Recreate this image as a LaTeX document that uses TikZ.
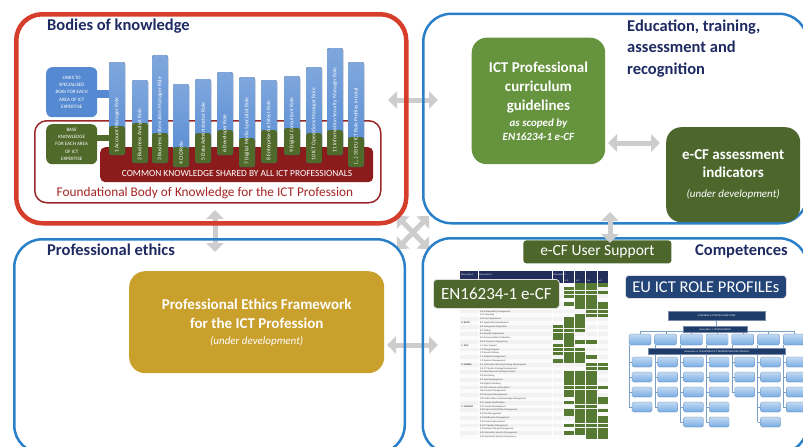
\documentclass[tikz,border=0pt]{standalone}
\usepackage{fontspec}
\setmainfont{Carlito}
\usetikzlibrary{arrows.meta,positioning}

\definecolor{titlenavy}{RGB}{30,42,98}
\definecolor{bokred}{RGB}{214,62,44}
\definecolor{panelblue}{RGB}{42,128,200}
\definecolor{leafgreen}{RGB}{102,148,62}
\definecolor{darkgreen}{RGB}{76,102,44}
\definecolor{ochre}{RGB}{201,160,44}
\definecolor{maroon}{RGB}{140,28,28}
\definecolor{rimred}{RGB}{155,40,40}
\definecolor{barblue}{RGB}{85,138,210}
\definecolor{bargreen}{RGB}{80,106,44}
\definecolor{arrowgray}{RGB}{205,205,205}
\definecolor{profnavy}{RGB}{35,68,118}
\definecolor{cellgreen}{RGB}{86,122,52}
\definecolor{chartblue}{RGB}{120,172,228}
\definecolor{chartnavy}{RGB}{30,60,105}
\definecolor{tablenavy}{RGB}{36,46,92}

\tikzset{
  panel/.style={draw, line width=2.5pt, rounded corners=28pt, anchor=north west, inner sep=0pt},
  title/.style={text=titlenavy, font=\fontsize{16.5}{21.7}\selectfont\bfseries, align=left, inner sep=0pt},
  card/.style={rounded corners=15pt, anchor=north west, inner sep=0pt, text=white, align=center},
  tag/.style={rounded corners=3.5pt, anchor=north west, inner sep=0pt, text=white,
    draw=white!75!gray, line width=0.8pt},
  side/.style={rounded corners=6pt, anchor=north west, inner sep=0pt, text=white, align=center,
    font=\fontsize{5}{7.3}\selectfont},
  barlabel/.style={rotate=90, anchor=west, inner sep=0pt, text=white, font=\fontsize{5.5}{6}\selectfont},
  garrow/.style={draw=arrowgray, line width=5pt, >={Triangle[width=17pt,length=9pt]}, <->},
  cflabel/.style={anchor=west, inner sep=0pt, text=gray!55!black, font=\fontsize{2.4}{2.6}\selectfont},
  hdrlabel/.style={anchor=west, inner sep=0pt, text=white, font=\fontsize{2.4}{2.6}\selectfont},
  orgbox/.style={top color=chartblue!45!white, bottom color=chartblue, draw=chartblue!75!black,
    line width=0.2pt, rounded corners=1.5pt},
  orgline/.style={draw=chartblue!70!gray, line width=0.4pt},
  orghead/.style={fill=chartnavy, draw=chartnavy!60!white, line width=0.3pt, anchor=north west,
    inner sep=0pt, text=white, font=\fontsize{2.5}{3}\selectfont},
}

\begin{document}
\begin{tikzpicture}[x=1pt,y=-1pt]
\useasboundingbox (0,0) rectangle (803,447);
\clip (0,0) rectangle (803,447);

% grey links between the four areas, under the frames
\coordinate (bokE) at (388,100);   \coordinate (etaW) at (438,100);
\coordinate (bokS) at (215,210);   \coordinate (ethN) at (215,252);
\coordinate (xa1) at (397,216);    \coordinate (xa2) at (429,249);
\coordinate (xb1) at (429,216);    \coordinate (xb2) at (397,249);
\coordinate (ethE) at (387,345);   \coordinate (cmpW) at (438,345);
\draw[garrow] (bokE) -- (etaW);
\draw[garrow] (bokS) -- (ethN);
\draw[garrow] (xa1) -- (xa2);
\draw[garrow] (xb1) -- (xb2);
\draw[garrow] (ethE) -- (cmpW);

% the four areas
\node[panel, draw=bokred, line width=4.5pt, rounded corners=26pt, minimum width=390pt, minimum height=209pt] (bok) at (14,12) {};
\node[panel, draw=panelblue, minimum width=384pt, minimum height=209.5pt] (eta) at (422,12.5) {};
\node[panel, draw=panelblue, minimum width=390.5pt, minimum height=214pt] (eth) at (13,238) {};
\node[panel, draw=panelblue, minimum width=384.5pt, minimum height=215pt] (cmp) at (421.5,237) {};

\node[title, anchor=base west] (boktitle) at (47,30.7) {Bodies of knowledge};
\node[title, anchor=north west] (etatitle) at (627,19.3) {Education, training,\\assessment and\\recognition};
\node[title, anchor=base west] (ethtitle) at (47,255) {Professional ethics};
\node[title, anchor=base west] (cmptitle) at (695,255) {Competences};

% bodies of knowledge
\node[draw=rimred, line width=1.5pt, rounded corners=12pt, anchor=north west, inner sep=0pt,
  minimum width=346pt, minimum height=82pt] (rim) at (34,120) {};
\node[fill=maroon, rounded corners=5pt, anchor=north west, inner sep=0pt,
  minimum width=273pt, minimum height=35pt] (common) at (100,147) {};
\node[anchor=base, inner sep=0pt, text=white, font=\fontsize{9.4}{10}\selectfont] (commontxt) at (237,176)
  {COMMON KNOWLEDGE SHARED BY ALL ICT PROFESSIONALS};
\node[anchor=base, inner sep=0pt, text=rimred!90!red, font=\fontsize{13.3}{14}\selectfont] (fbok) at (205,196.5)
  {Foundational Body of Knowledge for the ICT Profession};

\fill[barblue] (96,90) rectangle (111,98);
\fill[bargreen] (96,135) rectangle (111,141);
\node[side, fill=barblue, minimum width=51pt, minimum height=50pt] (links) at (46,67)
  {LINKS TO\\SPECIALISED\\BOKs FOR EACH\\AREA OF ICT\\EXPERTISE};
\node[side, fill=bargreen, minimum width=51pt, minimum height=40pt] (base) at (46,124)
  {BASE\\KNOWLEDGE\\FOR EACH AREA\\OF ICT\\EXPERTISE};

\foreach \n/\x/\top/\grn/\bot/\lbl in {
  1/109/62/126/155/{1 Account Manager Role},
  2/132/80/123/163/{2 Business Analyst Role},
  3/152/55/133/163/{3 Business Information Manager Role},
  4/173/84/147/167/{4 CIO Role},
  5/195/79/133/163/{5 Data Administrator Role},
  6/217/72/130/155/{6 Developer Role},
  7/239/77/138/167/{7 Digital Media Specialist Role},
  8/261/80/130/163/{8 Enterprise Architect Role},
  9/284/76/128/155/{9 Digital Consultant Role},
  10/306/67/133/163/{10 ICT Operations Manager Role},
  11/327/48/130/155/{11 Information Security Manager Role},
  12/348/62/137/167/{(...) 30 EU ICT Role Profiles in total}}{
  \fill[top color=barblue!75!white, bottom color=barblue, rounded corners=2.5pt] (\x,\top) rectangle (\x+16,\bot);
  \fill[bargreen, rounded corners=2.5pt] (\x,\grn) rectangle (\x+16,\bot);
  \node[barlabel] (bar\n) at (\x+8,\bot-2.5) {\lbl};
}

% education, training, assessment and recognition
\node[card, fill=leafgreen, minimum width=133.5pt, minimum height=126.5pt,
  font=\fontsize{15}{19}\selectfont\bfseries] (curr) at (471.5,37.5)
  {ICT Professional\\curriculum\\guidelines\\[-3pt]{\fontsize{11}{13}\selectfont\itshape as scoped by}\\[-5pt]{\fontsize{11}{13}\selectfont\itshape EN16234-1 e-CF}};
\node[card, fill=darkgreen, minimum width=134pt, minimum height=95pt,
  font=\fontsize{15}{18.3}\selectfont\bfseries] (assess) at (666,127)
  {e-CF assessment\\indicators\\[1.5pt]{\fontsize{11}{13}\selectfont\mdseries\itshape (under development)}};
\coordinate (currE) at (608,143);
\coordinate (assessW) at (660,143);
\draw[garrow] (currE) -- (assessW);

% professional ethics
\node[card, fill=ochre, rounded corners=16pt, minimum width=255pt, minimum height=102pt,
  font=\fontsize{15}{19}\selectfont\bfseries] (ethfw) at (129,271)
  {Professional Ethics Framework\\for the ICT Profession\\[-3pt]{\fontsize{11}{13}\selectfont\mdseries\itshape (under development)}};

% e-CF grid (first rows sit under the EN16234-1 label)
\fill[gray!10] (460,283) rectangle (608,439);
\foreach \r in {0,2,...,40} \fill[gray!3] (460,{283+3.8*\r}) rectangle (608,{286.8+3.8*\r});
\fill[tablenavy] (460,271) rectangle (608,283);
\node[hdrlabel] (dim1) at (461,274.5) {Dimension 1};
\node[hdrlabel] (dim2) at (479.5,274.5) {Dimension 2};
\node[hdrlabel] (dim3) at (553.5,274.5) {Dimension 3};
\foreach \k in {2,...,5} \node[hdrlabel] (lvl\k) at ({564.7+11.2*(\k-2)},280.5) {e-\k};
\foreach \r/\f/\t in {0/3/5,1/2/4,2/2/5,3/2/4,4/3/4,5/2/5,6/3/5,7/4/5,8/3/5,9/2/3,
  10/2/3,11/1/3,12/1/3,13/1/2,14/1/2,15/2/4,
  16/1/2,17/1/3,18/1/3,19/2/4,20/1/3,
  21/4/5,22/4/5,23/2/4,24/2/4,25/2/4,26/2/4,27/2/5,28/2/4,29/2/4,30/3/5,31/2/5,
  32/3/4,33/2/5,34/2/4,35/3/5,36/3/5,37/2/5,38/3/5,39/2/5,40/4/5}
  \fill[cellgreen] ({552+11.2*(\f-1)+0.3},{283.2+3.8*\r}) rectangle ({552+11.2*\t-0.3},{286.6+3.8*\r});
\foreach \cx in {478,552,563.2,574.4,585.6,596.8} \draw[white, line width=0.4pt] (\cx,271) -- (\cx,439);
\foreach \c [count=\r from 7] in {
  {A.8 Sustainability Management},{A.9 Innovating},{A.10 User Experience},
  {B.1 Application Development},{B.2 Component Integration},{B.3 Testing},{B.4 Solution Deployment},
  {B.5 Documentation Production},{B.6 ICT Systems Engineering},
  {C.1 User Support},{C.2 Change Support},{C.3 Service Delivery},{C.4 Problem Management},{C.5 Systems Management},
  {D.1 Information Security Strategy Development},{D.2 ICT Quality Strategy Development},
  {D.3 Education and Training Provision},{D.4 Purchasing},{D.5 Sales Development},{D.6 Digital Marketing},
  {D.7 Data Science and Analytics},{D.8 Contract Management},{D.9 Personnel Development},
  {D.10 Information and Knowledge Management},{D.11 Needs Identification},
  {E.1 Forecast Development},{E.2 Project and Portfolio Management},{E.3 Risk Management},
  {E.4 Relationship Management},{E.5 Process Improvement},{E.6 ICT Quality Management},
  {E.7 Business Change Management},{E.8 Information Security Management},{E.9 Information Systems Governance}}
  \node[cflabel] (ecomp\r) at (480,{284.9+3.8*\r}) {\c};
\foreach \s/\r in {B. BUILD/10,C. RUN/16,D. ENABLE/21,E. MANAGE/32}
  \node[cflabel, text=black] (area\r) at (461.5,{284.9+3.8*\r}) {\s};

% profile family tree
\draw[orgline] (716,320) -- (716,331);
\draw[orgline] (640,331) -- (794.2,331);
\foreach \cx in {640,665.7,691.4,717.1,742.8,768.5,794.2}{
  \draw[orgline] (\cx,331) -- (\cx,334);
  \path[orgbox] (\cx-11,334) rectangle (\cx+11,345);
}
\foreach \cx/\n in {640/4,665.7/4,691.4/5,717.1/5,742.8/3,768.5/5,794.2/4}{
  \draw[orgline] (\cx-11,345) -- (\cx-11,{347+15*\n});
  \foreach \i in {1,...,\n}{
    \draw[orgline] (\cx-11,{347+15*\i}) -- (\cx-8,{347+15*\i});
    \path[orgbox] (\cx-8,{342+15*\i}) rectangle (\cx+12,{352+15*\i});
  }
}
\node[orghead, minimum width=97pt, minimum height=9pt] (tree) at (668,311) {EUROPEAN ICT PROFILE FAMILY TREE};
\node[orghead, minimum width=64pt, minimum height=6pt] (gen1) at (683,326) {Generation 1: SEVEN FAMILIES};
\node[orghead, minimum width=137pt, minimum height=6pt] (gen2) at (648,348) {Generation 2: 30 EUROPEAN ICT PROFESSIONAL ROLE PROFILES};

% competences labels
\node[tag, fill=darkgreen, minimum width=126pt, minimum height=29pt,
  font=\fontsize{17}{20}\selectfont] (encf) at (433,279) {EN16234-1 e-CF};
\node[tag, fill=profnavy, minimum width=161pt, minimum height=23pt,
  font=\fontsize{16.5}{20}\selectfont] (roles) at (625,275) {EU ICT ROLE PROFILEs};
\node[tag, fill=darkgreen, draw=none, rounded corners=3pt, minimum width=148pt, minimum height=23pt,
  font=\fontsize{15.5}{18}\selectfont] (support) at (523,240) {e-CF User Support};

\coordinate (etaS) at (610,212);
\coordinate (supportN) at (610,243);
\draw[garrow] (etaS) -- (supportN);
\end{tikzpicture}
\end{document}
